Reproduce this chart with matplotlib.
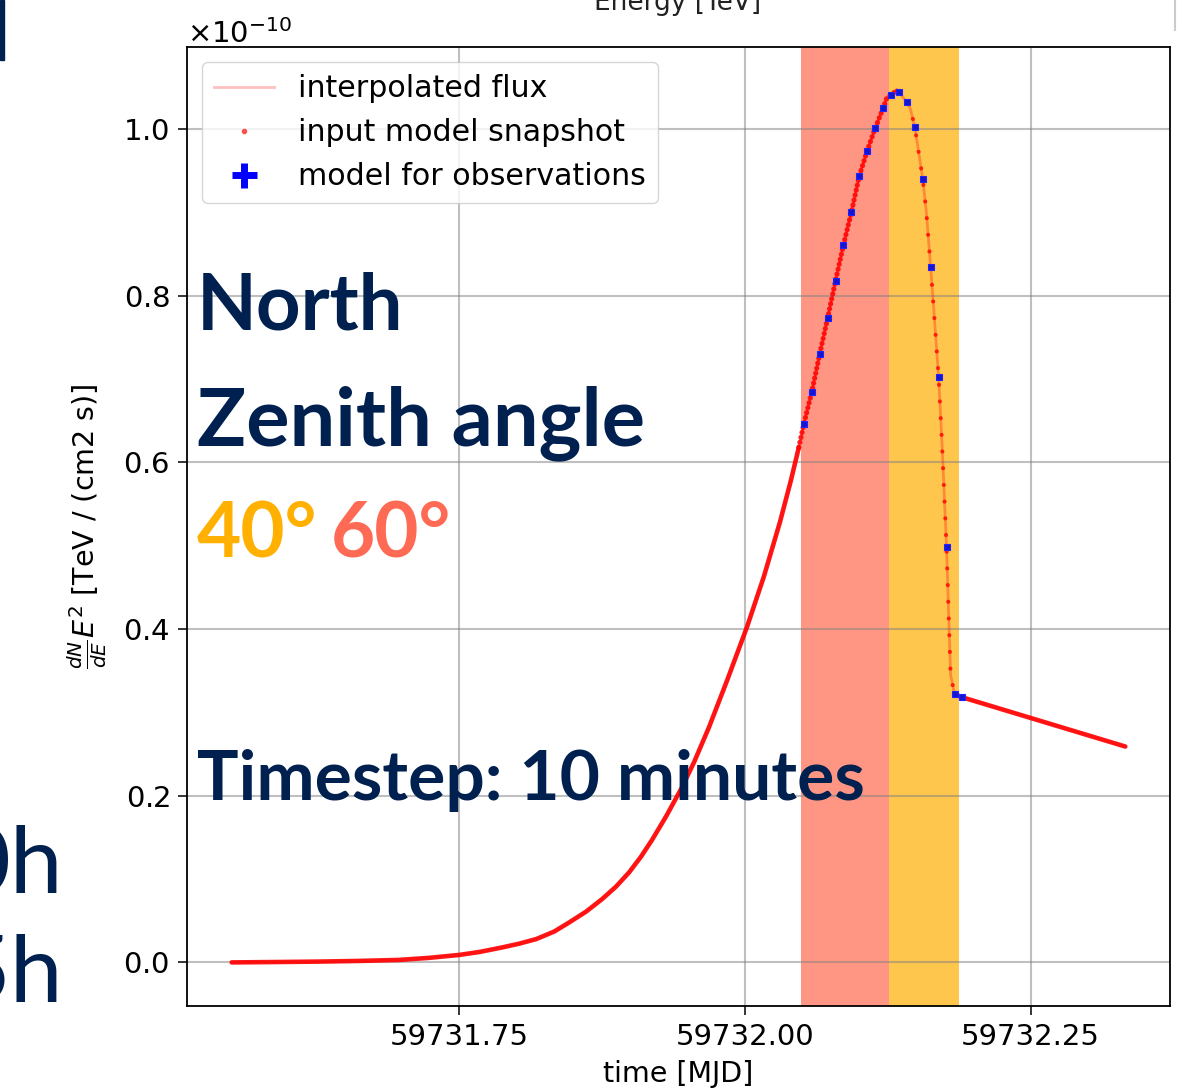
import matplotlib
matplotlib.use("Agg")
import numpy as np
import matplotlib.pyplot as plt
from matplotlib.lines import Line2D
from matplotlib.patches import Rectangle

# light curve of the model, flux in units of 1e-10 TeV / (cm2 s)
snap_time = np.array([
    59731.5507, 59731.5927, 59731.6276, 59731.6626, 59731.6976, 59731.7238,
    59731.7500, 59731.7675, 59731.7876, 59731.8024, 59731.8173, 59731.8330,
    59731.8462, 59731.8610, 59731.8750, 59731.8872, 59731.8986, 59731.9091,
    59731.9187, 59731.9309, 59731.9441, 59731.9554, 59731.9685, 59731.9843,
    59732.0017, 59732.0166, 59732.0306, 59732.0402, 59732.0472,
    59732.05157, 59732.05848, 59732.06547, 59732.07238, 59732.07937,
    59732.08628, 59732.09318, 59732.10017, 59732.10708, 59732.11407,
    59732.12098, 59732.12413, 59732.12789, 59732.13287,
    59732.13488, 59732.14178, 59732.14484, 59732.14878, 59732.15210,
    59732.15568, 59732.15883, 59732.16259, 59732.16582, 59732.16958,
    59732.17247, 59732.17649, 59732.17832, 59732.18007, 59732.18348,
    59732.19038, 59732.3330,
])
snap_flux = np.array([
    0.000, 0.0005, 0.001, 0.0018, 0.003, 0.0055,
    0.009, 0.0125, 0.018, 0.0225, 0.028, 0.037,
    0.048, 0.061, 0.076, 0.091, 0.108, 0.127,
    0.147, 0.175, 0.208, 0.240, 0.282, 0.338,
    0.402, 0.463, 0.528, 0.578, 0.618,
    0.646, 0.684, 0.730, 0.773, 0.818,
    0.861, 0.900, 0.944, 0.974, 1.001,
    1.025, 1.037, 1.041, 1.046,
    1.044, 1.032, 1.024, 1.002, 0.972,
    0.940, 0.900, 0.834, 0.774, 0.702,
    0.624, 0.499, 0.419, 0.345, 0.322,
    0.318, 0.259,
])

# model sampled at the observation times (10 minute steps)
obs_time = [
    59732.05157, 59732.05848, 59732.06547, 59732.07238, 59732.07937,
    59732.08628, 59732.09318, 59732.10017, 59732.10708, 59732.11407,
    59732.12098, 59732.12789, 59732.13488, 59732.14178, 59732.14878,
    59732.15568, 59732.16259, 59732.16958, 59732.17649, 59732.18348,
    59732.19038,
]
obs_flux = [
    0.646, 0.684, 0.730, 0.773, 0.818,
    0.861, 0.900, 0.944, 0.974, 1.001,
    1.025, 1.041, 1.044, 1.032, 1.002,
    0.940, 0.834, 0.702, 0.499, 0.322,
    0.318,
]

# visibility windows by zenith angle
window_60 = (59732.0490, 59732.1259)
window_40 = (59732.1259, 59732.1871)

W, H = 1189, 1090
fig = plt.figure(figsize=(W / 100, H / 100), dpi=100)
ax = fig.add_axes([187 / W, 1 - 1006 / H, (1170 - 187) / W, (1006 - 47) / H])

scale = 1e-10
t = snap_time
f = snap_flux * scale

ax.axvspan(*window_60, color="#FF9683", lw=0)
ax.axvspan(*window_40, color="#FFC64E", lw=0)

# thin interpolated line under everything
ax.plot(t, f, color="red", alpha=0.3, lw=2)

# snapshots: dense where the curve is flat, spread out where it is steep
rise = t <= 59732.0472
win_up = (t >= 59732.0472) & (t <= 59732.13287)
win_down = (t >= 59732.13287) & (t <= 59732.18348)
tail = t >= 59732.18348
ax.plot(t[rise], f[rise], color="red", lw=3.3, solid_capstyle="round", alpha=0.9)
ax.plot(t[win_up], f[win_up], color="red", lw=3.8, ls=(0, (0.01, 0.95)),
        dash_capstyle="round", alpha=0.85)
ax.plot(t[win_down], f[win_down], color="red", lw=3, ls=(0, (0.01, 4.0)),
        dash_capstyle="round", alpha=0.8)
ax.plot(t[tail], f[tail], color="red", lw=3.3, solid_capstyle="round", alpha=0.9)

ax.plot(obs_time, np.array(obs_flux) * scale, "s", ms=5, color="#1515d0",
        mec="#2222ff", mew=0.8, zorder=4)

ax.grid(True, color="grey", alpha=0.5, lw=1.5)
ax.ticklabel_format(axis="x", useOffset=False)
ax.ticklabel_format(axis="y", style="sci", scilimits=(0, 0), useMathText=True)
ax.set_xticks([59731.75, 59732.00, 59732.25])
ax.set_xticklabels(["59731.75", "59732.00", "59732.25"])
ax.tick_params(labelsize=21, length=6.5, width=1.1, pad=6)
ax.yaxis.get_offset_text().set_fontsize(21)
for s in ax.spines.values():
    s.set_linewidth(1.3)
ax.set_xlabel("time [MJD]", fontsize=20.5, labelpad=6)
ax.set_ylabel(r"$\frac{dN}{dE}E^2$ [TeV / (cm2 s)]", fontsize=20.5, labelpad=10)

handles = [
    Line2D([], [], color="red", alpha=0.25, lw=2),
    Line2D([], [], ls="none", marker="o", ms=3, color="red", alpha=0.6),
    Line2D([], [], ls="none", marker="+", ms=18, mew=5, color="blue"),
]
labels = ["interpolated flux", "input model snapshot", "model for observations"]
ax.legend(handles, labels, loc="upper left", fontsize=21.6, handlelength=2.0)

# slide overlay text
navy = "#00204F"
def px(x, y):
    return x / W, 1 - y / H

fig.text(*px(197, 330), "North", fontsize=56, fontweight="bold", family="Lato",
         color=navy, va="baseline", zorder=5)
fig.text(*px(197, 445), "Zenith angle", fontsize=58.5, fontweight="bold", family="Lato",
         color=navy, va="baseline", zorder=5)
fig.text(*px(197, 558), "40°", fontsize=55, fontweight="bold", family="Lato",
         color="#FFB000", va="baseline", zorder=5)
fig.text(*px(331, 558), "60°", fontsize=55, fontweight="bold", family="Lato",
         color="#FF6A55", va="baseline", zorder=5)
fig.text(*px(197, 800), "Timestep: 10 minutes", fontsize=50, fontweight="bold",
         family="Lato", color=navy, va="baseline", zorder=5)
fig.text(*px(63, 893), "0h", fontsize=68, family="Lato", color=navy,
         ha="right", va="baseline", zorder=5)
fig.text(*px(63, 1002), "5h", fontsize=68, family="Lato", color=navy,
         ha="right", va="baseline", zorder=5)

# bits of the neighbouring panel
fig.text(*px(678, 10), "Energy [TeV]", fontsize=19, color="#222222",
         ha="center", va="baseline")
fig.patches.append(Rectangle(px(0, 60), 3.5 / W, 60 / H, transform=fig.transFigure,
                             color=navy, zorder=5))
fig.lines.append(Line2D([1175 / W, 1175 / W], [1, 1 - 30 / H],
                        transform=fig.transFigure, color="#cccccc", lw=1.5))

fig.savefig("out.png", dpi=100)
